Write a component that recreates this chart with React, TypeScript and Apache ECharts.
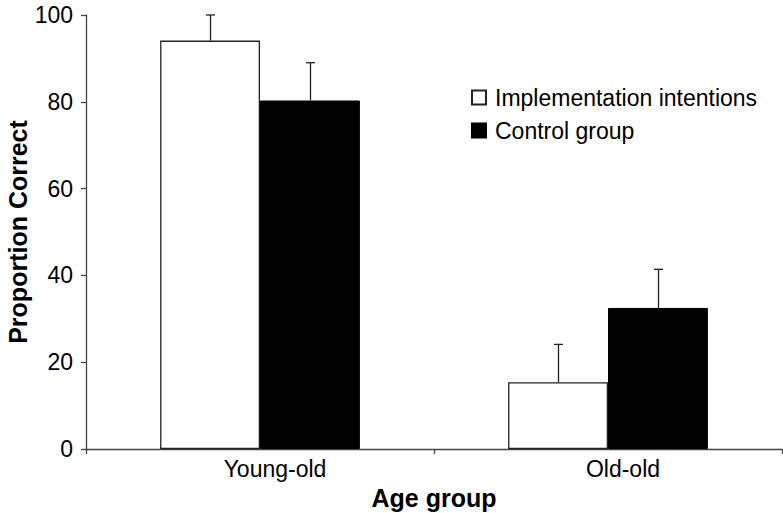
import React, { useEffect, useRef } from "react";
import * as echarts from "echarts";

const categories = ["Young-old", "Old-old"];
const seriesNames = ["Implementation intentions", "Control group"];
const implementationValues = [94.1, 15.4];
const implementationErrorTops = [100, 24.1];
const controlValues = [80.3, 32.5];
const controlErrorTops = [89.0, 41.4];
const yTicks = { min: 0, max: 100, interval: 20 };

const FONT = "'Liberation Sans', Arial, Helvetica, sans-serif";
const BAR_FRAC = 0.287;

function errorRenderer(side: number) {
  return (params: any, api: any) => {
    const cat = api.value(0);
    const low = api.value(1);
    const high = api.value(2);
    const band = api.size([1, 0])[0];
    const off = (band * BAR_FRAC) / 2 * side;
    const p1 = api.coord([cat, low]);
    const p2 = api.coord([cat, high]);
    const x = Math.round(p1[0] + off) + 0.5;
    const cap = 4.5;
    const style = { stroke: "#222", lineWidth: 1.3 };
    return {
      type: "group",
      children: [
        { type: "line", shape: { x1: x, y1: p1[1], x2: x, y2: p2[1] }, style },
        { type: "line", shape: { x1: x - cap, y1: p2[1], x2: x + cap, y2: p2[1] }, style },
      ],
    };
  };
}

export default function App() {
  const ref = useRef<HTMLDivElement>(null);
  useEffect(() => {
    document.body.style.margin = "0";
    const chart = echarts.init(ref.current!, null, { renderer: "svg" });
    chart.setOption({
      animation: false,
      backgroundColor: "#fff",
      textStyle: { fontFamily: FONT },
      grid: { left: 86, right: 1, top: 15, bottom: 64, containLabel: false, outerBoundsMode: "none" },
      legend: {
        orient: "vertical",
        left: 471,
        top: 86,
        padding: 0,
        itemWidth: 14,
        itemHeight: 14,
        itemGap: 10,
        icon: "rect",
        data: seriesNames,
        textStyle: { fontSize: 23, lineHeight: 23, color: "#000", fontFamily: FONT, padding: [0, 0, 0, 4] },
      },
      xAxis: {
        type: "category",
        data: categories,
        boundaryGap: true,
        name: "Age group",
        nameLocation: "middle",
        nameGap: 36,
        nameMoveOverlap: false,
        nameTextStyle: { fontSize: 25, fontWeight: "bold", color: "#000", fontFamily: FONT },
        axisLine: { lineStyle: { color: "#444", width: 1.3 } },
        axisTick: { show: true, length: 5, lineStyle: { color: "#444", width: 1.3 } },
        axisLabel: { fontSize: 23, color: "#000", margin: 8, padding: [0, 0, 0, 30], fontFamily: FONT },
        splitLine: { show: false },
      },
      yAxis: {
        type: "value",
        min: yTicks.min,
        max: yTicks.max,
        interval: yTicks.interval,
        name: "Proportion Correct",
        nameLocation: "middle",
        nameGap: 56,
        nameMoveOverlap: false,
        nameTextStyle: { fontSize: 25, fontWeight: "bold", color: "#000", fontFamily: FONT },
        axisLine: { show: true, lineStyle: { color: "#444", width: 1.3 } },
        axisTick: { show: true, length: 5, lineStyle: { color: "#444", width: 1.3 } },
        axisLabel: { fontSize: 23, color: "#000", margin: 13, fontFamily: FONT },
        splitLine: { show: false },
      },
      series: [
        {
          name: seriesNames[0],
          type: "bar",
          data: implementationValues,
          barWidth: BAR_FRAC * 100 + "%",
          barGap: "0%",
          itemStyle: { color: "#fff", borderColor: "#222", borderWidth: 1.3 },
        },
        {
          name: seriesNames[1],
          type: "bar",
          data: controlValues,
          barWidth: BAR_FRAC * 100 + "%",
          barGap: "0%",
          itemStyle: { color: "#000", borderColor: "#000", borderWidth: 1 },
        },
        {
          type: "custom",
          renderItem: errorRenderer(-1),
          data: categories.map((_, i) => [i, implementationValues[i], implementationErrorTops[i]]),
          z: 5,
          silent: true,
        },
        {
          type: "custom",
          renderItem: errorRenderer(1),
          data: categories.map((_, i) => [i, controlValues[i], controlErrorTops[i]]),
          z: 5,
          silent: true,
        },
      ],
    });
    return () => chart.dispose();
  }, []);
  return <div ref={ref} style={{ width: 783, height: 513 }} />;
}
